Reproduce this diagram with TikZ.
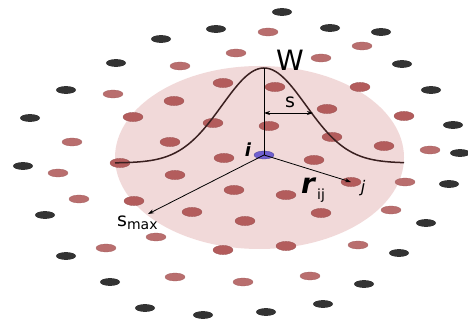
\documentclass[tikz,border=0pt]{standalone}
\usepackage{fontspec}
\setmainfont{DejaVu Sans}
\usetikzlibrary{arrows.meta}
\definecolor{zonepink}{HTML}{F1D9D9}
\definecolor{darkdot}{HTML}{333333}
\definecolor{reddot}{HTML}{B35C5C}
\definecolor{lightdot}{HTML}{B96E6E}
\definecolor{bluedot}{HTML}{7060D0}
\definecolor{curvecol}{HTML}{3A2020}
\tikzset{
  dotd/.style={fill=darkdot},
  dotr/.style={fill=reddot, draw=reddot!85!black, line width=0.3pt},
  dotl/.style={fill=lightdot, draw=lightdot!90!black, line width=0.3pt},
  conn/.style={black, line width=0.8pt, -{Stealth[length=6pt,width=4pt]}},
  lbl/.style={inner sep=0pt, text=black}
}
\begin{document}
\begin{tikzpicture}[x=1pt,y=-1pt]
\useasboundingbox (0,0) rectangle (468,320);
% neighbourhood
\fill[zonepink] (259.5,157.5) ellipse [x radius=144.5, y radius=91.5];
% outer dark particles
\foreach \p in {(282,12),(216,29),(330,28),(381,32),(161,39),(116,63),(402,64),(66,90),(431,90),(30,118),(453,125),(460,153),(23,166),(449,184),(45,215),(426,223),(66,256),(399,253),(110,282),(364,284),(145,308),(203,315),(266,312),(323,304)}
  \fill[dotd] \p ellipse [x radius=10, y radius=3.9];
% outer red particles
\foreach \p in {(268,32),(236,53),(362,46),(321,58),(180,66),(113,94),(72,142),(430,150),(58,173),(405,182),(79,199),(391,210),(156,237),(106,248),(358,245),(175,277),(243,282),(310,276)}
  \filldraw[dotl] \p ellipse [x radius=10, y radius=4];
% inner particles
\foreach \p in {(223,83),(275,87),(174,101),(133,117),(327,109),(213,123),(269,126),(170,142),(332,137),(384,146),(224,158),(314,160),(120,163),(175,175),(351,182),(234,190),(286,195),(134,201),(192,212),(321,213),(245,221),(223,250),(286,246),(360,87),(404,116)}
  \filldraw[dotr] \p ellipse [x radius=10, y radius=4.6];
% Gaussian kernel
\draw[curvecol, line width=1.5pt] plot[domain=-149:140, samples=120, smooth] ({264+\x},{163-95*exp(-0.5*(\x/42)*(\x/42))});
% named points
\coordinate (i) at (264,155);
\coordinate (top) at (264,68);
\coordinate (smaxend) at (148,214);
\coordinate (jend) at (351,182);
\coordinate (sa) at (264,113);
\coordinate (sb) at (313,113);
\filldraw[fill=bluedot, draw=bluedot!70!black, line width=0.3pt] (i) ellipse [x radius=10, y radius=4];
\draw[black, line width=0.9pt] (top) -- (i);
\draw[conn] (i) -- (smaxend);
\draw[conn] (i) -- (jend);
\draw[black, line width=0.8pt, {Stealth[length=6pt,width=4pt]}-{Stealth[length=6pt,width=4pt]}] (sa) -- (sb);
% labels
\node[lbl, font=\fontsize{28}{28}\selectfont] (W) at (290,60) {W};
\node[lbl, font=\fontsize{19}{19}\selectfont] (s) at (290,102) {s};
\node[lbl, font=\fontsize{18}{18}\selectfont\bfseries\itshape] (ilab) at (248,150) {i};
\node[lbl, font=\fontsize{28}{28}\selectfont\bfseries\itshape] (r) at (308,186) {r};
\node[lbl, font=\fontsize{14}{14}\selectfont] (ij) at (321,196) {ij};
\node[lbl, font=\fontsize{16}{16}\selectfont\itshape] (jlab) at (363,188) {j};
\node[lbl, anchor=base west, font=\fontsize{19}{19}\selectfont] (smax) at (117,227) {s\raisebox{-2pt}{\fontsize{14}{14}\selectfont max}};
\end{tikzpicture}
\end{document}
